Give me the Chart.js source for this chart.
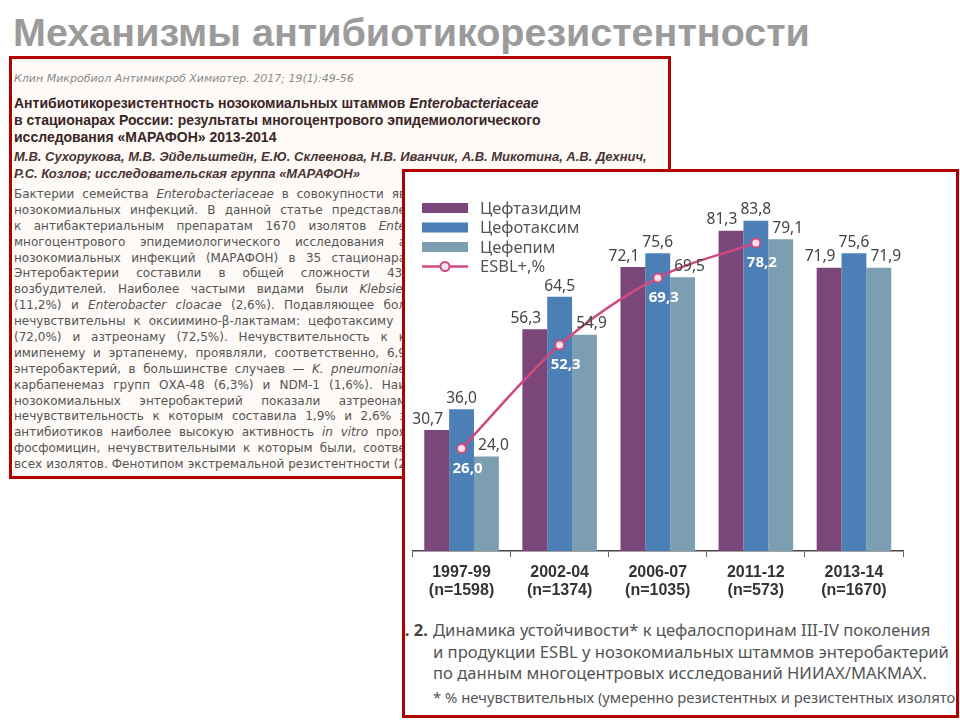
<!DOCTYPE html>
<html lang="ru">
<head>
<meta charset="utf-8">
<script src="https://cdn.jsdelivr.net/npm/chart.js@4.4.1/dist/chart.umd.min.js"></script>
<style>
  html, body { margin: 0; padding: 0; background: #fff; }
  body { width: 960px; height: 720px; position: relative; overflow: hidden; }
  #slideTitle {
    position: absolute; left: 13px; top: 8px;
    font: bold 39.5px "Liberation Sans", Arial, sans-serif;
    color: #9b9b9b; white-space: nowrap; line-height: 48px;
  }
  #paper {
    position: absolute; left: 9px; top: 56px; width: 656px; height: 417px;
    border: 3px solid #b10000; background: #fdfaf7; overflow: hidden;
  }
  #paper .ln { position: absolute; left: 2px; white-space: nowrap; }
  #journal { top: 12px; font: italic 11px "DejaVu Sans", sans-serif; color: #8a8a8a; line-height: 16px; }
  #ptitle { top: 35.5px; font: bold 14px "Liberation Sans", Arial, sans-serif; color: #3a2626; line-height: 17px; }
  #authors { top: 88.5px; font: italic bold 13px "Liberation Sans", Arial, sans-serif; color: #4a3535; line-height: 17px; }
  #abstract { position: absolute; left: 2px; top: 128px; font: 12px "DejaVu Sans", sans-serif; color: #555; }
  #abstract div { width: 392px; height: 15.9px; line-height: 15.9px; text-align: justify; text-align-last: justify; white-space: nowrap; }
  #chartBox {
    position: absolute; left: 402px; top: 169px; width: 551px; height: 543px;
    border: 3px solid #b10000; background: #fff; overflow: hidden;
  }
  #chartBox canvas { position: absolute; left: 1px; top: 2px; }
  #caption {
    position: absolute; left: 28px; top: 447px; white-space: nowrap;
    font: 16.6px "Noto Sans", sans-serif; color: #555; line-height: 21.5px;
  }
  #caption .fig { position: absolute; right: calc(100% + 5px); top: 0; font-weight: bold; color: #444; }
  #footnote {
    position: absolute; left: 28px; top: 516px; white-space: nowrap;
    font: 14.8px "Noto Sans", sans-serif; color: #555; line-height: 18px;
  }
</style>
</head>
<body>
<div id="slideTitle">Механизмы антибиотикорезистентности</div>

<div id="paper">
  <div class="ln" id="journal">Клин Микробиол Антимикроб Химиотер. 2017; 19(1):49-56</div>
  <div class="ln" id="ptitle">Антибиотикорезистентность нозокомиальных штаммов <i>Enterobacteriaceae</i><br>в стационарах России: результаты многоцентрового эпидемиологического<br>исследования «МАРАФОН» 2013-2014</div>
  <div class="ln" id="authors">М.В. Сухорукова, М.В. Эйдельштейн, Е.Ю. Склеенова, Н.В. Иванчик, А.В. Микотина, А.В. Дехнич,<br>Р.С. Козлов; исследовательская группа «МАРАФОН»</div>
  <div id="abstract">
    <div>Бактерии семейства <i>Enterobacteriaceae</i> в совокупности яв</div>
    <div>нозокомиальных инфекций. В данной статье представле</div>
    <div>к антибактериальным препаратам 1670 изолятов <i>Ente</i></div>
    <div>многоцентрового эпидемиологического исследования а</div>
    <div>нозокомиальных инфекций (МАРАФОН) в 35 стационара</div>
    <div>Энтеробактерии составили в общей сложности 43,</div>
    <div>возбудителей. Наиболее частыми видами были <i>Klebsiel</i></div>
    <div>(11,2%) и <i>Enterobacter cloacae</i> (2,6%). Подавляющее бол</div>
    <div>нечувствительны к оксиимино-β-лактамам: цефотаксиму (</div>
    <div>(72,0%) и азтреонаму (72,5%). Нечувствительность к к</div>
    <div>имипенему и эртапенему, проявляли, соответственно, 6,9</div>
    <div>энтеробактерий, в большинстве случаев — <i>K. pneumoniae</i></div>
    <div>карбапенемаз групп ОХА-48 (6,3%) и NDM-1 (1,6%). Наи</div>
    <div>нозокомиальных энтеробактерий показали азтреонам</div>
    <div>нечувствительность к которым составила 1,9% и 2,6% з</div>
    <div>антибиотиков наиболее высокую активность <i>in vitro</i> проя</div>
    <div>фосфомицин, нечувствительными к которым были, соотве</div>
    <div>всех изолятов. Фенотипом экстремальной резистентности (2</div>
  </div>
</div>

<div id="chartBox">
  <canvas id="myChart" width="549" height="440"></canvas>
  <div id="caption"><span class="fig">Рис. 2.</span>Динамика устойчивости* к цефалоспоринам III-IV поколения<br>и продукции ESBL у нозокомиальных штаммов энтеробактерий<br>по данным многоцентровых исследований НИИАХ/МАКМАХ.</div>
  <div id="footnote">* % нечувствительных (умеренно резистентных и резистентных изолятов)</div>
</div>

<script>
// data
const periods = ['1997-99', '2002-04', '2006-07', '2011-12', '2013-14'];
const sampleSizes = ['(n=1598)', '(n=1374)', '(n=1035)', '(n=573)', '(n=1670)'];
const seriesNames = ['Цефтазидим', 'Цефотаксим', 'Цефепим', 'ESBL+,%'];
const ceftazidime = [30.7, 56.3, 72.1, 81.3, 71.9];
const cefotaxime = [36.0, 64.5, 75.6, 83.8, 75.6];
const cefepime = [24.0, 54.9, 69.5, 79.1, 71.9];
const esblRate = [26.0, 52.3, 69.3, 78.2, null];

const barColors = ['#7b4679', '#4b7fb6', '#7b9fb0'];
const lineColor = '#cf4a80';
const fmt = v => v.toFixed(1).replace('.', ',');

Chart.defaults.font.family = '"Noto Sans", sans-serif';

// value labels over bars and under line points
const valueLabels = {
  id: 'valueLabels',
  afterDatasetsDraw(chart) {
    const { ctx } = chart;
    const shift = [-9, 0, 7];
    ctx.save();
    ctx.textAlign = 'center';
    chart.data.datasets.forEach((ds, i) => {
      const meta = chart.getDatasetMeta(i);
      meta.data.forEach((el, j) => {
        const v = ds.data[j];
        if (v === null || v === undefined) return;
        if (ds.type === 'line') {
          ctx.font = 'bold 15px "Noto Sans"';
          ctx.fillStyle = '#ffffff';
          ctx.textBaseline = 'middle';
          ctx.fillText(fmt(v), el.x + 6, el.y + 20);
        } else {
          ctx.font = '15.5px "Noto Sans"';
          ctx.fillStyle = '#444';
          ctx.textBaseline = 'bottom';
          ctx.fillText(fmt(v), el.x + shift[i - 1], el.y - 3);
        }
      });
    });
    ctx.restore();
  }
};

// legend in the upper left corner
const cornerLegend = {
  id: 'cornerLegend',
  afterDraw(chart) {
    const { ctx } = chart;
    const x0 = 16, w = 46, rowY = [34, 53.5, 73, 92.5];
    ctx.save();
    ctx.font = '16.5px "Noto Sans"';
    ctx.textBaseline = 'middle';
    seriesNames.forEach((name, i) => {
      if (i < 3) {
        ctx.fillStyle = barColors[i];
        ctx.fillRect(x0, rowY[i] - 5, w, 10);
      } else {
        ctx.strokeStyle = lineColor;
        ctx.lineWidth = 2.5;
        ctx.beginPath();
        ctx.moveTo(x0, rowY[i]);
        ctx.lineTo(x0 + w, rowY[i]);
        ctx.stroke();
        ctx.beginPath();
        ctx.arc(x0 + w / 2, rowY[i], 4.5, 0, Math.PI * 2);
        ctx.fillStyle = '#fbe3ec';
        ctx.fill();
        ctx.lineWidth = 2;
        ctx.stroke();
      }
      ctx.fillStyle = '#555';
      ctx.fillText(name, 74, rowY[i] + 1);
    });
    ctx.restore();
  }
};

const data = {
  labels: periods.map((p, i) => [p, sampleSizes[i]]),
  datasets: [
    {
      type: 'line', label: seriesNames[3], data: esblRate, order: 0,
      borderColor: lineColor, borderWidth: 2.5,
      pointRadius: 4.5, pointBorderWidth: 2,
      pointBackgroundColor: '#fbe3ec', pointBorderColor: lineColor,
      cubicInterpolationMode: 'monotone', spanGaps: false
    },
    { type: 'bar', label: seriesNames[0], data: ceftazidime, backgroundColor: barColors[0], order: 1 },
    { type: 'bar', label: seriesNames[1], data: cefotaxime, backgroundColor: barColors[1], order: 1 },
    { type: 'bar', label: seriesNames[2], data: cefepime, backgroundColor: barColors[2], order: 1 }
  ]
};

const config = {
  type: 'bar',
  data,
  options: {
    responsive: false,
    animation: false,
    layout: { padding: { top: 22.4, left: 1, right: 52, bottom: 0 } },
    datasets: { bar: { categoryPercentage: 0.76, barPercentage: 1.0 } },
    plugins: { legend: { display: false }, tooltip: { enabled: false } },
    scales: {
      x: {
        afterFit(scale) { scale.height = 63; },
        border: { display: true, color: '#444', width: 1.5 },
        grid: { display: true, offset: true, drawOnChartArea: false, drawTicks: true, tickLength: 6, color: '#666', lineWidth: 1 },
        ticks: {
          padding: 6, color: '#333',
          font: { family: '"Liberation Sans", Arial, sans-serif', size: 16, weight: 'bold', lineHeight: 1.15 }
        }
      },
      y: { display: false, min: 0, max: 90 }
    }
  },
  plugins: [valueLabels, cornerLegend]
};

const myChart = new Chart(document.getElementById('myChart'), config);
</script>
</body>
</html>
